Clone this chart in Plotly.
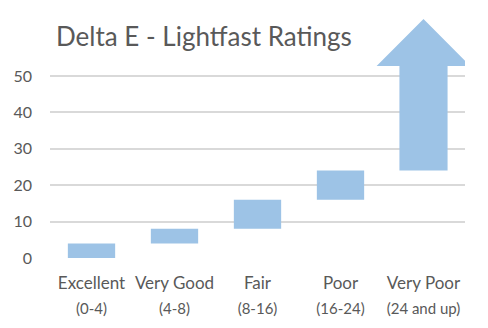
import plotly.graph_objects as go

# ---- data ----
categories = ["Excellent", "Very Good", "Fair", "Poor", "Very Poor"]
ranges = ["(0-4)", "(4-8)", "(8-16)", "(16-24)", "(24 and up)"]
lows = [0, 4, 8, 16, 24]
highs = [4, 8, 16, 24, None]   # last one is open-ended -> arrow
y_ticks = [0, 10, 20, 30, 40, 50]

# ---- style ----
BAR = "#9DC3E6"
GRID = "#D9D9D9"
TXT = "#595959"
FONT = "Lato, Open Sans, sans-serif"
BAR_W = 0.57
SHAFT_W = 0.58
HEAD_W = 1.13
SHAFT_TOP = 52.7   # arrow shaft ends here (style)
HEAD_TIP = 65.6    # arrow tip (style)

x_idx = list(range(len(categories)))
closed = [i for i, h in enumerate(highs) if h is not None]
open_i = [i for i, h in enumerate(highs) if h is None]

fig = go.Figure()
fig.add_trace(go.Bar(
    x=[x_idx[i] for i in closed],
    y=[highs[i] - lows[i] for i in closed],
    base=[lows[i] for i in closed],
    width=BAR_W,
    marker=dict(color=BAR, line=dict(width=0)),
    hoverinfo="skip",
))

for i in open_i:
    c = x_idx[i]
    b = lows[i]
    xs = [c - SHAFT_W / 2, c - SHAFT_W / 2, c - HEAD_W / 2, c, c + HEAD_W / 2,
          c + SHAFT_W / 2, c + SHAFT_W / 2, c - SHAFT_W / 2]
    ys = [b, SHAFT_TOP, SHAFT_TOP, HEAD_TIP, SHAFT_TOP, SHAFT_TOP, b, b]
    fig.add_trace(go.Scatter(
        x=xs, y=ys, mode="lines", fill="toself", fillcolor=BAR,
        line=dict(width=0, color=BAR), hoverinfo="skip", cliponaxis=False,
    ))

ticktext = [f"<span style='font-size:17px'>{c}</span><br><span style='font-size:15px'>{r}</span>"
            for c, r in zip(categories, ranges)]

fig.update_layout(
    width=488, height=328,
    margin=dict(l=50, r=23, t=14, b=70),
    paper_bgcolor="white", plot_bgcolor="white",
    showlegend=False,
    font=dict(family=FONT, color=TXT, size=16),
    title=dict(
        text="Delta E - Lightfast Ratings",
        font=dict(family=FONT, size=26, color=TXT),
        x=56 / 488, xanchor="left", xref="container",
        y=1 - 37 / 328, yanchor="middle", yref="container",
    ),
    xaxis=dict(
        range=[-0.5, 4.5], tickvals=x_idx, ticktext=ticktext,
        showgrid=False, zeroline=False, showline=False, ticks="",
        ticklabelstandoff=11,
        tickfont=dict(size=19, color=TXT, family=FONT),
        fixedrange=True,
    ),
    yaxis=dict(
        range=[0, 67], tickvals=y_ticks,
        showgrid=True, gridcolor=GRID, gridwidth=2,
        zeroline=False, showline=False, ticks="",
        ticklabelstandoff=17,
        tickfont=dict(size=16, color=TXT, family=FONT),
        fixedrange=True,
    ),
)

fig.write_html("out.html", config={"displayModeBar": False})
